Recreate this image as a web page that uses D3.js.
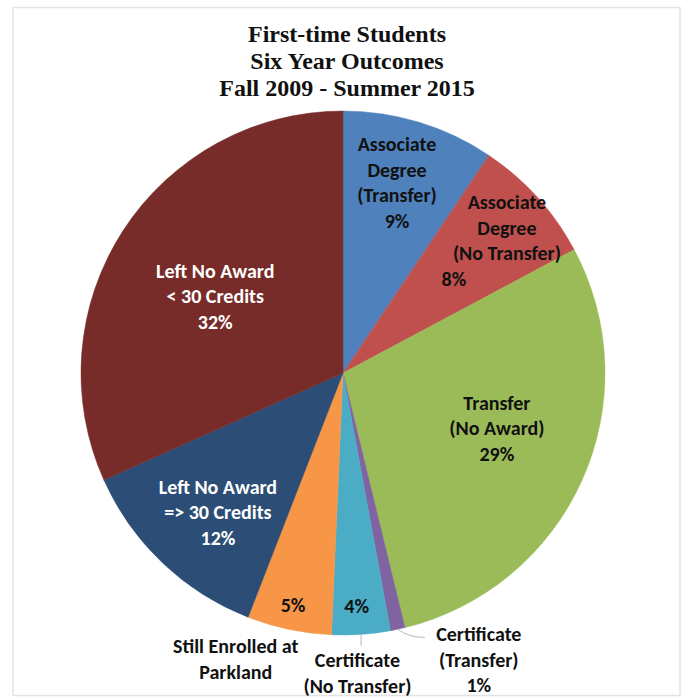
<!DOCTYPE html>
<html>
<head>
<meta charset="utf-8">
<script src="https://cdn.jsdelivr.net/npm/d3@7"></script>
<style>
  html, body { margin: 0; padding: 0; background: #fff; }
  svg { display: block; }
</style>
</head>
<body>
<svg id="chart"></svg>
<script>
// chart data
var titleLines = ["First-time Students", "Six Year Outcomes", "Fall 2009 - Summer 2015"];
var categories = [
  "Associate Degree (Transfer)",
  "Associate Degree (No Transfer)",
  "Transfer (No Award)",
  "Certificate (Transfer)",
  "Certificate (No Transfer)",
  "Still Enrolled at Parkland",
  "Left No Award => 30 Credits",
  "Left No Award < 30 Credits"
];
var shares = [9.4, 7.8, 29.0, 0.9, 3.6, 5.2, 12.4, 31.7]; // percent
var labelLines = [
  ["Associate", "Degree", "(Transfer)"],
  ["Associate", "Degree", "(No Transfer)"],
  ["Transfer", "(No Award)"],
  ["Certificate", "(Transfer)"],
  ["Certificate", "(No Transfer)"],
  ["Still Enrolled at", "Parkland"],
  ["Left No Award", "=> 30 Credits"],
  ["Left No Award", "< 30 Credits"]
];

// styles
var colors = ["#4f81bd", "#c0504d", "#9bbb59", "#8064a2", "#4bacc6", "#f79646", "#2c4d75", "#772c2a"];
var textColors = ["#111", "#111", "#111", "#111", "#111", "#111", "#fff", "#fff"];

// label placement: radius as fraction of R, angle nudge in degrees
// name = block with category lines, pct = percentage (null => part of name block)
var layout = [
  { name: [0.756, -1.1], pct: null },
  { name: [0.756, 0], pct: null, lineDx: [17, 17, 17, -36] },
  { name: [0.624, -4.4], pct: null },
  { name: [1.21, -13.3], pct: null, leader: "side" },
  { name: [1.145, 1.2], pct: [0.89, 0.6], leader: "down" },
  { name: [1.165, 8.7], pct: [0.905, 0.3] },
  { name: [0.714, -1.6], pct: null },
  { name: [0.569, -1.9], pct: null }
];

var width = 683, height = 698;
var cx = 343, cy = 373, R = 262;
var lineH = 25.5;
var labelFont = "Carlito, Calibri, Lato, sans-serif";
var labelSize = "20px";

var svg = d3.select("#chart")
  .attr("width", width)
  .attr("height", height);

// faint frame
svg.append("rect")
  .attr("x", 13).attr("y", 7.5)
  .attr("width", 667).attr("height", 688)
  .attr("fill", "none")
  .attr("stroke", "#e3e3e3")
  .attr("stroke-width", 1.5);

// title
svg.append("g").selectAll("text")
  .data(titleLines)
  .enter().append("text")
  .attr("x", 347)
  .attr("y", function(d, i) { return 42 + i * 27; })
  .attr("text-anchor", "middle")
  .attr("font-family", "'Liberation Serif', 'Times New Roman', serif")
  .attr("font-weight", "bold")
  .attr("font-size", "24px")
  .attr("fill", "#111")
  .text(function(d) { return d; });

var data = categories.map(function(c, i) {
  return { name: c, value: shares[i], i: i };
});

var pie = d3.pie()
  .sort(null)
  .value(function(d) { return d.value; });

var arcs = pie(data);

var arc = d3.arc()
  .innerRadius(0)
  .outerRadius(R);

var g = svg.append("g")
  .attr("transform", "translate(" + cx + "," + cy + ")");

g.selectAll("path.slice")
  .data(arcs)
  .enter().append("path")
  .attr("class", "slice")
  .attr("d", arc)
  .attr("fill", function(d) { return colors[d.data.i]; })
  .attr("stroke", function(d) { return colors[d.data.i]; })
  .attr("stroke-width", 0.5);

// polar helper, angle in radians measured clockwise from 12 o'clock
function polar(a, r) {
  return [r * Math.sin(a), -r * Math.cos(a)];
}
function midAngle(d) { return (d.startAngle + d.endAngle) / 2; }
var rad = Math.PI / 180;

var labels = g.append("g").attr("class", "labels");

arcs.forEach(function(d) {
  var i = d.data.i;
  var lay = layout[i];
  var pctText = Math.round(d.data.value) + "%";
  var lines = labelLines[i].slice();
  if (!lay.pct) lines.push(pctText);

  var p = polar(midAngle(d) + lay.name[1] * rad, lay.name[0] * R);
  var top = p[1] - (lines.length - 1) * lineH / 2;

  // leader lines for the outside labels
  if (lay.leader) {
    var e = polar(midAngle(d), R);
    var end = lay.leader === "side" ? [p[0] - 54, p[1] - 22] : [e[0], top - 14];
    labels.append("path")
      .attr("d", "M" + e[0] + "," + e[1] + "Q" + (e[0] + (end[0] - e[0]) * 0.4) + "," + (end[1]) + " " + end[0] + "," + end[1])
      .attr("fill", "none")
      .attr("stroke", "#b8b8b8")
      .attr("stroke-width", 1);
  }

  labels.append("g").selectAll("text")
    .data(lines)
    .enter().append("text")
    .attr("x", function(t, k) { return p[0] + (lay.lineDx ? lay.lineDx[k] : 0); })
    .attr("y", function(t, k) { return top + k * lineH; })
    .attr("dy", "0.36em")
    .attr("text-anchor", "middle")
    .attr("font-family", labelFont)
    .attr("font-weight", "bold")
    .attr("font-size", labelSize)
    .attr("fill", lay.pct ? "#111" : textColors[i])
    .text(function(t) { return t; });

  if (lay.pct) {
    var q = polar(midAngle(d) + lay.pct[1] * rad, lay.pct[0] * R);
    labels.append("text")
      .attr("x", q[0])
      .attr("y", q[1])
      .attr("dy", "0.36em")
      .attr("text-anchor", "middle")
      .attr("font-family", labelFont)
      .attr("font-weight", "bold")
      .attr("font-size", labelSize)
      .attr("fill", textColors[i])
      .text(pctText);
  }
});
</script>
</body>
</html>
